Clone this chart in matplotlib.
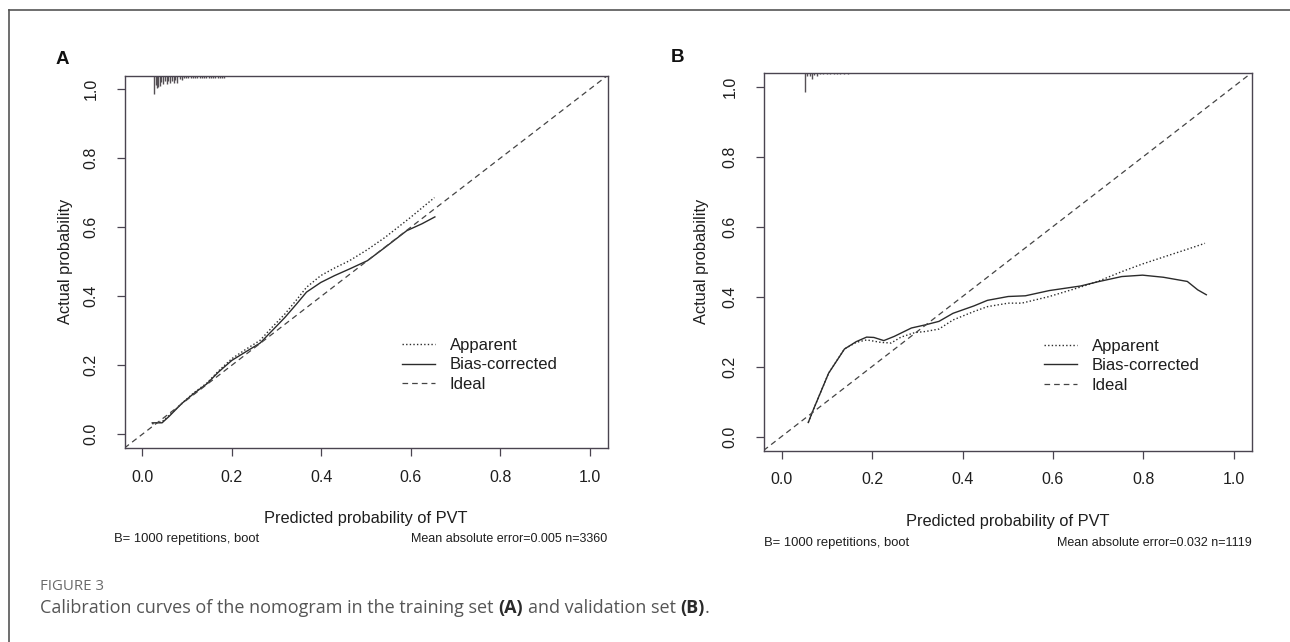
import matplotlib
matplotlib.use("Agg")
import matplotlib.pyplot as plt
from matplotlib.lines import Line2D
import matplotlib.transforms as mtransforms

# ---------------- data ----------------
tick_vals = [0.0, 0.2, 0.4, 0.6, 0.8, 1.0]
tick_labels = ["0.0", "0.2", "0.4", "0.6", "0.8", "1.0"]
axis_lim = (-0.04, 1.04)
legend_labels = ["Apparent", "Bias-corrected", "Ideal"]

# Panel A (training set)
a_app_x = [0.022, 0.044, 0.060, 0.088, 0.115, 0.144, 0.170, 0.200, 0.230, 0.263, 0.290,
           0.319, 0.345, 0.367, 0.399, 0.430, 0.463, 0.503, 0.543, 0.599, 0.653]
a_app_y = [0.030, 0.036, 0.055, 0.089, 0.120, 0.148, 0.183, 0.219, 0.245, 0.272, 0.310,
           0.349, 0.390, 0.426, 0.460, 0.482, 0.503, 0.535, 0.571, 0.628, 0.686]
a_bc_x = [0.022, 0.044, 0.060, 0.088, 0.115, 0.144, 0.170, 0.200, 0.230, 0.263, 0.290,
          0.319, 0.345, 0.367, 0.399, 0.430, 0.463, 0.503, 0.543, 0.591, 0.625, 0.654]
a_bc_y = [0.033, 0.033, 0.052, 0.089, 0.118, 0.146, 0.180, 0.214, 0.238, 0.264, 0.300,
          0.339, 0.378, 0.412, 0.440, 0.460, 0.479, 0.503, 0.542, 0.590, 0.610, 0.630]
rug_a_x = [0.027, 0.030, 0.033, 0.036, 0.039, 0.042, 0.046, 0.050, 0.054, 0.058, 0.062,
           0.066, 0.070, 0.074, 0.078, 0.083, 0.088, 0.093, 0.098, 0.103, 0.108, 0.113,
           0.118, 0.123, 0.128, 0.133, 0.138, 0.143, 0.148, 0.153, 0.158, 0.163, 0.168,
           0.173, 0.178, 0.183]
rug_a_len = [0.050, 0.025, 0.034, 0.032, 0.027, 0.017, 0.022, 0.015, 0.024, 0.016, 0.021,
             0.014, 0.019, 0.013, 0.021, 0.009, 0.011, 0.006, 0.008, 0.006, 0.006, 0.006,
             0.006, 0.006, 0.006, 0.006, 0.006, 0.006, 0.006, 0.006, 0.006, 0.006, 0.006,
             0.006, 0.006, 0.006]
a_subtitle_left = "B= 1000 repetitions, boot"
a_subtitle_right = "Mean absolute error=0.005 n=3360"

# Panel B (validation set)
b_app_x = [0.059, 0.070, 0.104, 0.139, 0.165, 0.188, 0.219, 0.242, 0.264, 0.295, 0.318,
           0.348, 0.379, 0.425, 0.455, 0.501, 0.531, 0.592, 0.661, 0.699, 0.752, 0.798,
           0.859, 0.897, 0.936]
b_app_y = [0.040, 0.076, 0.181, 0.250, 0.269, 0.276, 0.269, 0.267, 0.284, 0.297, 0.300,
           0.307, 0.333, 0.357, 0.371, 0.381, 0.381, 0.400, 0.427, 0.443, 0.471, 0.493,
           0.519, 0.535, 0.552]
b_bc_x = [0.059, 0.070, 0.104, 0.139, 0.165, 0.188, 0.204, 0.226, 0.249, 0.287, 0.318,
          0.348, 0.379, 0.425, 0.455, 0.501, 0.539, 0.592, 0.661, 0.699, 0.752, 0.798,
          0.844, 0.897, 0.920, 0.939]
b_bc_y = [0.040, 0.076, 0.181, 0.250, 0.271, 0.284, 0.283, 0.274, 0.286, 0.310, 0.319,
          0.329, 0.352, 0.373, 0.389, 0.400, 0.402, 0.417, 0.430, 0.442, 0.457, 0.461,
          0.455, 0.443, 0.419, 0.405]
rug_b_x = [0.0515, 0.057, 0.0625, 0.067, 0.072, 0.078, 0.085, 0.092, 0.100, 0.107, 0.115,
           0.122, 0.130, 0.137, 0.146]
rug_b_len = [0.052, 0.009, 0.008, 0.018, 0.007, 0.009, 0.005, 0.005, 0.005, 0.005, 0.005,
             0.005, 0.005, 0.005, 0.005]
b_subtitle_left = "B= 1000 repetitions, boot"
b_subtitle_right = "Mean absolute error=0.032 n=1119"

xlabel_text = "Predicted probability of PVT"
ylabel_text = "Actual probability"
panel_letters = ["A", "B"]
caption_head = "FIGURE 3"
# caption pieces: (text, bold?)
caption_parts = [("Calibration curves of the nomogram in the training set", False),
                 ("(A)", True), ("and validation set", False), ("(B)", True), (".", False)]

# ---------------- style ----------------
plt.rcParams["font.family"] = ["Liberation Sans", "DejaVu Sans"]
LINE_C = "#2b2b2b"
SPINE_C = "#4a4450"
TEXT_C = "#1e1e1e"
FS = 11.5

fig = plt.figure(figsize=(12.9, 6.42), dpi=100)

# figure frame (top and left edges)
fig.add_artist(Line2D([9 / 1290, 9 / 1290], [0, 1 - 10 / 642], transform=fig.transFigure,
                      color="#555555", lw=1.2))
fig.add_artist(Line2D([9 / 1290, 1], [1 - 10 / 642, 1 - 10 / 642], transform=fig.transFigure,
                      color="#555555", lw=1.2))

panels = [
    dict(rect=[124.5 / 1290, 1 - 448 / 642, 483 / 1290, 372.5 / 642],
         app=(a_app_x, a_app_y), bc=(a_bc_x, a_bc_y), rug=(rug_a_x, rug_a_len),
         sub=(a_subtitle_left, a_subtitle_right), sub_left_x=-0.022, letter=panel_letters[0],
         letter_xy=(62 / 1290, 1 - 59 / 642), ylab_x=-0.123, xlab_y=-0.1906, sub_y=-0.244),
    dict(rect=[763.5 / 1290, 1 - 450.5 / 642, 488.5 / 1290, 378 / 642],
         app=(b_app_x, b_app_y), bc=(b_bc_x, b_bc_y), rug=(rug_b_x, rug_b_len),
         sub=(b_subtitle_left, b_subtitle_right), sub_left_x=0.0, letter=panel_letters[1],
         letter_xy=(678 / 1290, 1 - 57 / 642), ylab_x=-0.1265, xlab_y=-0.188, sub_y=-0.2455),
]

for p in panels:
    ax = fig.add_axes(p["rect"])
    ax.set_xlim(axis_lim)
    ax.set_ylim(axis_lim)
    for s in ax.spines.values():
        s.set_color(SPINE_C)
        s.set_linewidth(1.0)

    l_app, = ax.plot(p["app"][0], p["app"][1], color=LINE_C, lw=1.0,
                     linestyle=(0, (1.0, 1.6)))
    l_bc, = ax.plot(p["bc"][0], p["bc"][1], color=LINE_C, lw=1.0, linestyle="-")
    l_ideal = ax.axline((0, 0), slope=1, color="#444444", lw=0.9,
                        linestyle=(0, (4.5, 3.2)))

    # rug (distribution of predictions) hanging from top border
    trans = mtransforms.blended_transform_factory(ax.transData, ax.transAxes)
    rx, rl = p["rug"]
    ax.vlines(rx, [1 - v for v in rl], 1, transform=trans, color="#555055", lw=1.0)

    ax.set_xticks(tick_vals)
    ax.set_xticklabels(tick_labels)
    ax.set_yticks(tick_vals)
    ax.set_yticklabels(tick_labels, rotation=90, va="center")
    ax.tick_params(axis="both", direction="out", length=5.8, width=0.9, color=SPINE_C,
                   labelsize=FS, labelcolor=TEXT_C)
    ax.tick_params(axis="x", pad=10)
    ax.tick_params(axis="y", pad=13)

    ax.set_xlabel(xlabel_text, fontsize=FS + 0.3, color=TEXT_C)
    ax.xaxis.set_label_coords(0.5, p["xlab_y"])
    ax.xaxis.label.set_va("center")
    ax.set_ylabel(ylabel_text, fontsize=FS + 0.3, color=TEXT_C)
    ax.yaxis.set_label_coords(p["ylab_x"], 0.5)
    ax.yaxis.label.set_va("center")

    ax.text(p["sub_left_x"], p["sub_y"], p["sub"][0], transform=ax.transAxes, ha="left",
            va="center", fontsize=9.4, color=TEXT_C)
    ax.text(1.0, p["sub_y"], p["sub"][1], transform=ax.transAxes, ha="right", va="center",
            fontsize=9.0, color=TEXT_C)

    leg = ax.legend([l_app, l_bc, l_ideal], legend_labels, loc="upper left",
                    bbox_to_anchor=(0.575, 0.296), frameon=False, fontsize=FS + 0.5,
                    handlelength=1.95, handletextpad=0.9, labelspacing=0.28,
                    borderpad=0, borderaxespad=0)
    for t in leg.get_texts():
        t.set_color(TEXT_C)

    fig.text(p["letter_xy"][0], p["letter_xy"][1], p["letter"], ha="center", va="center",
             fontsize=13.5, fontweight="bold", color="#111111")

# caption
cap_family = ["Open Sans", "DejaVu Sans"]
fig.text(40 / 1290, 1 - 587 / 642, caption_head, ha="left", va="center", fontsize=10.8,
         color="#6a6a6a", family=cap_family)
prev = None
for txt, bold in caption_parts:
    kw = dict(fontsize=13, family=cap_family,
              color="#2a2a2a" if bold else "#555555",
              fontweight="bold" if bold else "normal")
    if prev is None:
        prev = fig.text(40 / 1290, 1 - 613 / 642, txt, ha="left", va="baseline", **kw)
    else:
        gap = 0.0 if txt == "." else 3.4
        prev = fig.add_artist(matplotlib.text.Annotation(
            txt, xy=(1, 0), xycoords=prev, xytext=(gap, 0), textcoords="offset points",
            ha="left", va="bottom", **kw))

fig.savefig("out.png", dpi=100)
